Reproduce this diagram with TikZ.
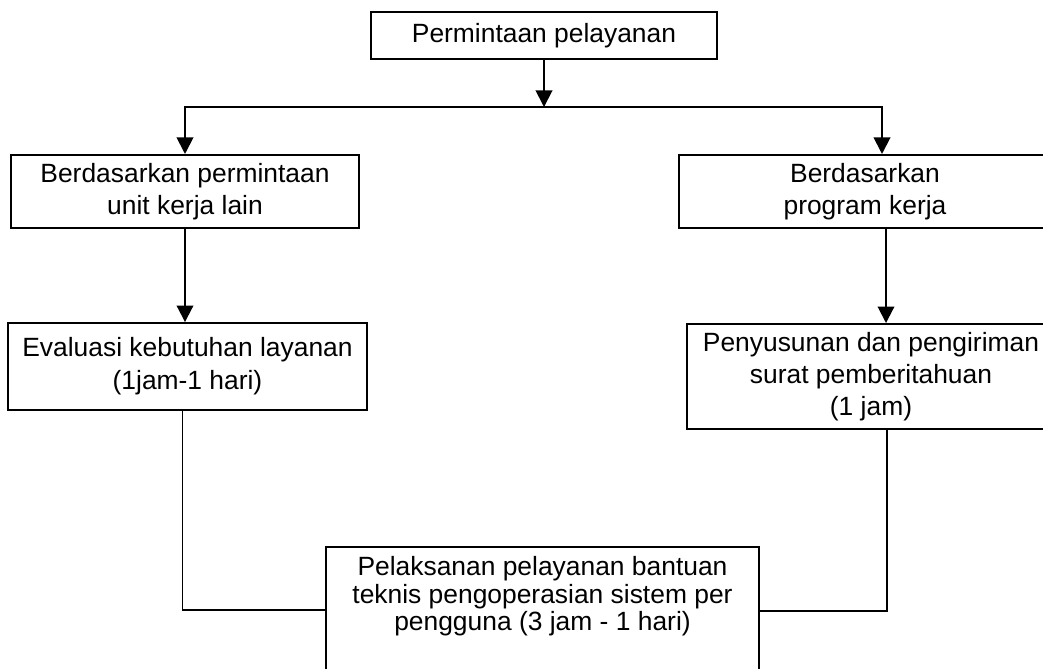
\documentclass[tikz,border=0pt]{standalone}
\usepackage{fontspec}
\setmainfont{Liberation Sans}
\usetikzlibrary{calc, arrows.meta}

\begin{document}
\begin{tikzpicture}[
    x=0.4545pt, y=-0.4545pt,
    line width=0.9pt,
    >={Triangle[width=7.5pt,length=7.5pt]},
% Define a custom style for the boxes
    flowbox/.style={
        draw,
        rectangle,
        align=center,
        inner ysep=0pt,
        font=\fontsize{12}{14.5}\selectfont
        }
]
\useasboundingbox (0,0) rectangle (1043,669);
\clip (0,0) rectangle (1043,669);

\node[flowbox, minimum width=157.3pt, minimum height=21.4pt] (R) at (544,35.5) {Permintaan pelayanan};

\node[flowbox, minimum width=158.2pt, minimum height=33.2pt] (U) at (185,191.5) {Berdasarkan permintaan\\unit kerja lain};
\node[flowbox, minimum width=169.1pt, minimum height=33.2pt] (K) at (865,191.5) {Berdasarkan\\program kerja};

\node[flowbox, minimum width=163.2pt, minimum height=39.5pt, font=\fontsize{12}{15}\selectfont] (E) at (187.5,366.5) {Evaluasi kebutuhan layanan\\(1jam-1 hari)};
\node[flowbox, minimum width=167.3pt, minimum height=47.7pt] (S) at (871,376.5) {Penyusunan dan pengiriman\\surat pemberitahuan\\(1 jam)};

\node[flowbox, minimum width=196.8pt, minimum height=74.5pt, font=\fontsize{12}{12.3}\selectfont] (T) at (542.5,629) {Pelaksanan pelayanan bantuan\\teknis pengoperasian sistem per\\pengguna (3 jam - 1 hari)\\[20pt]\mbox{}};

\coordinate (J) at (R.south |- 0,107);
\path[->] (R.south) edge (J);
\draw[->] (J) -| (U.north);
\coordinate (k0) at ($(K.north)+(17,0)$);
\draw[->] (J) -| (k0);

\path[->] (U.south) edge (U.south |- E.north);
\coordinate (k1) at ($(K.south)+(21,0)$);
\path[->] (k1) edge (k1 |- S.north);

\coordinate (e1) at ($(E.south)+(-5,0)$);
\draw (e1) |- (T.west |- 0,610);
\coordinate (s1) at ($(S.south)+(16,0)$);
\draw (s1) |- (T.east |- 0,611);

\end{tikzpicture}
\end{document}
